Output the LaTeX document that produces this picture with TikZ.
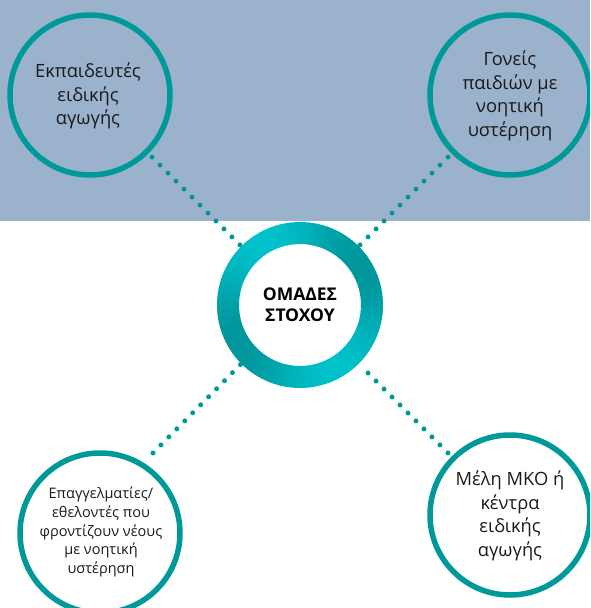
\documentclass[tikz,border=0pt]{standalone}
\usepackage{fontspec}
\setmainfont{Open Sans}
\definecolor{band}{HTML}{9AB2CB}
\definecolor{teal0}{HTML}{00999A}
\definecolor{ringlight}{HTML}{00C1CA}
\definecolor{ringdark}{HTML}{00969B}
\definecolor{txt}{HTML}{1A1A1A}
\tikzset{
  ringnode/.style={circle, draw=teal0, line width=5.5pt, minimum size=160pt, inner sep=0pt},
  dotline/.style={draw=teal0, line width=5pt, line cap=round, dash pattern=on 0pt off 11.3pt},
  label18/.style={align=center, text=txt, font=\fontsize{18.3}{23.5}\selectfont},
  label15/.style={align=center, text=txt, font=\fontsize{14.5}{18.8}\selectfont},
  centertxt/.style={align=center, text=black, font=\bfseries\fontsize{17.5}{21}\selectfont}
}
\begin{document}
\begin{tikzpicture}[x=1pt,y=-1pt]
\useasboundingbox (0,0) rectangle (590,608);
\clip (0,0) rectangle (590,608);
\fill[band] (0,0) rectangle (590,221);

\node[ringnode] (tl) at (90,95) {};
\node[ringnode] (tr) at (510,95) {};
\node[ringnode] (bl) at (100,533) {};
\node[ringnode] (br) at (510,515) {};
\node[circle, minimum size=166pt, inner sep=0pt] (c) at (300,305) {};
\coordinate (blend) at (153,453);

\draw[dotline, shorten <=5pt] (tl.-45) -- (c.135);
\draw[dotline, shorten <=5pt] (tr.-135) -- (c.45);
\draw[dotline] (blend) -- (c.-135);
\draw[dotline, shorten <=5pt, shorten >=8pt] (br.135) -- (c.-45);

\begin{scope}[shift={(c.center)}]
\foreach \a in {0,3,...,357}{
  \pgfmathsetmacro\f{100*cos(\a+122)^2}
  \fill[ringlight!\f!ringdark] (\a:61) -- (\a:83) -- (\a+3.4:83) -- (\a+3.4:61) -- cycle;
}
\end{scope}

\node[centertxt] (ct) at (300,305) {ΟΜΑΔΕΣ\\ΣΤΟΧΟΥ};
\node[label18] (tlt) at (88,96) {Εκπαιδευτές\\ειδικής\\αγωγής};
\node[label18] (trt) at (510,96) {Γονείς\\παιδιών με\\νοητική\\υστέρηση};
\node[label15] (blt) at (101,532) {Επαγγελματίες/\\εθελοντές που\\φροντίζουν νέους\\με νοητική\\υστέρηση};
\node[label18] (brt) at (510,516) {Μέλη ΜΚΟ ή\\κέντρα\\ειδικής\\αγωγής};
\end{tikzpicture}
\end{document}
